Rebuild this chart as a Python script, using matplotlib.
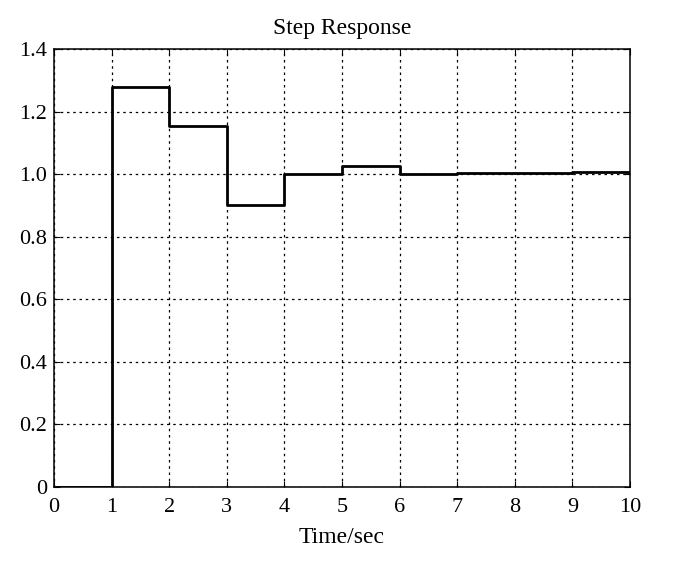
import numpy as np
import matplotlib.pyplot as plt

plt.rcParams['font.family'] = ['Liberation Serif', 'DejaVu Serif']

# sample instants and the held output value on each interval
t = np.array([0, 1, 2, 3, 4, 5, 6, 7, 8, 9, 10])
y = np.array([0, 1.28, 1.155, 0.902, 1.0, 1.027, 1.0, 1.003, 1.005, 1.007, 1.008])

xticks = [0, 1, 2, 3, 4, 5, 6, 7, 8, 9, 10]
yticks = [0, 0.2, 0.4, 0.6, 0.8, 1.0, 1.2, 1.4]
ylabels = ['0', '0.2', '0.4', '0.6', '0.8', '1.0', '1.2', '1.4']

fig = plt.figure(figsize=(6.8, 5.85), dpi=100)
ax = fig.add_axes([0.0794, 0.1675, 0.847, 0.7487])

ax.step(t, y, where='post', color='black', lw=2)

ax.set_xlim(0, 10)
ax.set_ylim(0, 1.4)
ax.set_xticks(xticks)
ax.set_yticks(yticks)
ax.set_yticklabels(ylabels)
ax.grid(True, color='black', linestyle=(0, (2, 3)), lw=0.9)
ax.tick_params(direction='in', top=True, right=True, labelsize=16, length=4)
ax.tick_params(axis='x', pad=8)
ax.tick_params(axis='y', pad=5)
for s in ax.spines.values():
    s.set_linewidth(1.1)
    s.set_zorder(3)

ax.set_title('Step Response', fontsize=17, pad=11)
ax.set_xlabel('Time/sec', fontsize=17, labelpad=7)

fig.savefig('out.png', dpi=100)
